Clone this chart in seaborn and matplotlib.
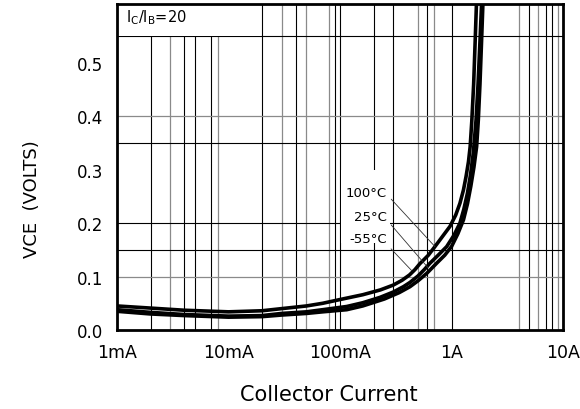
import numpy as np
import pandas as pd
import matplotlib
matplotlib.use("Agg")
import matplotlib.pyplot as plt
from matplotlib.patches import Rectangle
import seaborn as sns

# --- Data (collector current in mA, VCE in volts) ---
i_100 = [1, 2, 4, 10, 20, 30, 50, 70, 100, 160, 230, 300, 360, 420, 470, 520, 620, 710,
         830, 970, 1090, 1190, 1280, 1350, 1420, 1470, 1520, 1580, 1630, 1680]
v_100 = [0.045, 0.041, 0.037, 0.034, 0.036, 0.040, 0.045, 0.050, 0.057, 0.066,
         0.075, 0.084, 0.093, 0.103, 0.113, 0.124, 0.140, 0.156, 0.175, 0.194,
         0.215, 0.237, 0.262, 0.287, 0.315, 0.343, 0.390, 0.460, 0.540, 0.620]

i_25 = [1, 2, 4, 10, 20, 30, 50, 70, 115, 160, 228, 300, 370, 424, 500, 570, 641, 760,
        905, 1050, 1190, 1290, 1390, 1480, 1570, 1660, 1730, 1800, 1870]
v_25 = [0.038, 0.033, 0.029, 0.026, 0.027, 0.031, 0.034, 0.038, 0.044, 0.051,
        0.061, 0.071, 0.081, 0.089, 0.101, 0.113, 0.125, 0.140, 0.156, 0.177,
        0.200, 0.226, 0.256, 0.290, 0.332, 0.393, 0.460, 0.540, 0.620]

i_m55 = [1, 2, 4, 10, 20, 30, 50, 70, 115, 160, 250, 340, 424, 500, 600, 736, 870, 1000,
         1140, 1280, 1390, 1490, 1590, 1680, 1740, 1800, 1860, 1920]
v_m55 = [0.035, 0.030, 0.027, 0.024, 0.025, 0.028, 0.031, 0.034, 0.038, 0.045,
         0.058, 0.070, 0.081, 0.092, 0.106, 0.125, 0.140, 0.156, 0.180, 0.206,
         0.236, 0.269, 0.305, 0.343, 0.393, 0.460, 0.540, 0.620]

temps = ["100°C", "25°C", "-55°C"]

x_ticks = [1, 10, 100, 1000, 10000]
x_tick_labels = ["1mA", "10mA", "100mA", "1A", "10A"]
y_ticks = [0.0, 0.1, 0.2, 0.3, 0.4, 0.5]
y_tick_labels = ["0.0", "0.1", "0.2", "0.3", "0.4", "0.5"]

# --- Chart-paper grid (as scanned) ---
grid_x_dark = [2, 4, 5, 7, 20, 40, 90, 100, 200, 300, 600, 1000, 5000, 7000, 8000]
grid_x_light = [3, 8, 30, 50, 80, 500, 700, 4000, 6000, 9000]
grid_y_dark = [0.15, 0.2, 0.35, 0.55]
grid_y_light = [0.1, 0.4]

df = pd.concat([
    pd.DataFrame({"current": i_100, "vce": v_100, "temp": temps[0]}),
    pd.DataFrame({"current": i_25, "vce": v_25, "temp": temps[1]}),
    pd.DataFrame({"current": i_m55, "vce": v_m55, "temp": temps[2]}),
], ignore_index=True)

sns.set_style("white")
plt.rcParams["font.family"] = ["DejaVu Sans"]
plt.rcParams["text.color"] = "black"
plt.rcParams["axes.labelcolor"] = "black"
plt.rcParams["xtick.color"] = "black"
plt.rcParams["ytick.color"] = "black"

fig = plt.figure(figsize=(5.8, 4.1), dpi=100)
ax = fig.add_axes([117 / 580, 1 - 331 / 410, 446 / 580, 326 / 410])
ax.set_xscale("log")
ax.set_xlim(1, 10000)
ax.set_ylim(0, 0.61)

for x in grid_x_dark:
    ax.axvline(x, color="black", lw=0.8, zorder=1)
for x in grid_x_light:
    ax.axvline(x, color="#8a8a8a", lw=0.9, zorder=1)
for y in grid_y_dark:
    ax.axhline(y, color="black", lw=0.8, zorder=1)
for y in grid_y_light:
    ax.axhline(y, color="#8a8a8a", lw=0.9, zorder=1)

# blank areas behind the labels
ax.add_patch(Rectangle((1, 0.55), 18.6, 0.1, fc="white", ec="none", zorder=1.5))
ax.add_patch(Rectangle((103, 0.163), 180, 0.137, fc="white", ec="none", zorder=1.5))

sns.lineplot(data=df, x="current", y="vce", hue="temp", palette=["black"] * 3,
             legend=False, lw=2.6, sort=False, estimator=None, ax=ax, zorder=3)

ax.set_xticks(x_ticks)
ax.set_xticklabels(x_tick_labels)
ax.xaxis.set_minor_locator(matplotlib.ticker.NullLocator())
ax.set_yticks(y_ticks)
ax.set_yticklabels(y_tick_labels)
ax.tick_params(axis="x", length=0, pad=9, labelsize=12.5)
ax.tick_params(axis="y", length=0, pad=10, labelsize=12)

ax.set_xlabel("Collector Current", fontsize=15)
ax.xaxis.set_label_coords(0.475, -0.165)
ax.set_ylabel("VCE  (VOLTS)", fontsize=13)
ax.yaxis.set_label_coords(-0.17, 0.405)

for s in ax.spines.values():
    s.set_linewidth(2)
    s.set_color("black")
    s.set_zorder(5)

ax.text(1.2, 0.586, r"$\mathregular{I_C/I_B}$=20", fontsize=10.5, va="center", ha="left", zorder=4)

# temperature call-outs with leader lines
label_pos = [(264, 0.257), (264, 0.213), (264, 0.172)]
leader_end = [(711, 0.156), (619, 0.116), (440, 0.111)]
rel = [(1.0, 0.35), (1.0, 0.2), (1.0, 0.0)]
for t, p, e, r in zip(temps, label_pos, leader_end, rel):
    ax.annotate(t, xy=e, xytext=p, ha="right", va="center", fontsize=9.5, zorder=4,
                arrowprops=dict(arrowstyle="-", lw=0.6, color="#333333",
                                shrinkA=1, shrinkB=0, relpos=r))

fig.savefig("out.png", dpi=100)
